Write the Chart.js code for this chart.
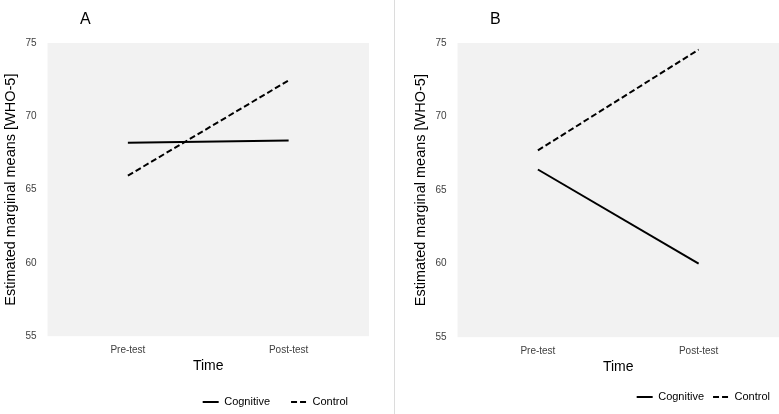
<!DOCTYPE html>
<html>
<head>
<meta charset="utf-8">
<script src="https://cdn.jsdelivr.net/npm/chart.js@4.4.1/dist/chart.umd.min.js"></script>
<style>
  html, body { margin: 0; padding: 0; background: #fff; }
  #wrap { position: relative; width: 779px; height: 414px; overflow: hidden; }
  #cA { position: absolute; left: 0; top: 0; }
  #cB { position: absolute; left: 396px; top: 0; }
  #sep { position: absolute; left: 394px; top: 0; width: 1px; height: 414px; background: #dcdcdc; }
  .panel { position: absolute; top: 10px; font: 16px "Liberation Sans", Arial, sans-serif; color: #000; }
</style>
</head>
<body>
<div id="wrap">
  <canvas id="cA" width="393" height="420"></canvas>
  <div id="sep"></div>
  <canvas id="cB" width="383" height="414"></canvas>
  <div class="panel" style="left:80px">A</div>
  <div class="panel" style="left:490px">B</div>
</div>
<script>
const categories = ['Pre-test', 'Post-test'];
const seriesNames = ['Cognitive', 'Control'];
const cognitiveA = [68.2, 68.35];
const controlA = [65.95, 72.45];
const cognitiveB = [66.4, 60.0];
const controlB = [67.7, 74.55];
const yTicks = [55, 60, 65, 70, 75];

const bgPlugin = {
  id: 'plotBg',
  beforeDraw(chart) {
    const a = chart.chartArea, ctx = chart.ctx;
    ctx.save();
    ctx.fillStyle = '#f2f2f2';
    ctx.fillRect(a.left, a.top, a.right - a.left, a.bottom - a.top);
    ctx.restore();
  }
};

const FONT = '"Liberation Sans", Arial, sans-serif';

function makeChart(id, cog, ctl, cfg) {
  return new Chart(document.getElementById(id), {
    type: 'line',
    data: {
      labels: categories,
      datasets: [
        { label: seriesNames[0], data: cog, borderColor: '#000', backgroundColor: '#000',
          borderWidth: 2, pointRadius: 0, tension: 0 },
        { label: seriesNames[1], data: ctl, borderColor: '#000', backgroundColor: '#000',
          borderWidth: 2, borderDash: [6, 3], pointRadius: 0, tension: 0 }
      ]
    },
    options: {
      responsive: false,
      animation: false,
      layout: { padding: cfg.pad },
      plugins: {
        tooltip: { enabled: false },
        legend: {
          position: 'bottom',
          align: 'end',
          fullSize: false,
          labels: {
            usePointStyle: true,
            pointStyle: 'line',
            pointStyleWidth: 16,
            boxHeight: 2,
            color: '#000',
            padding: cfg.legendPad,
            font: { family: FONT, size: 11 },
            generateLabels(chart) {
              const items = Chart.defaults.plugins.legend.labels.generateLabels(chart);
              items.forEach(it => {
                const ds = chart.data.datasets[it.datasetIndex];
                it.lineDash = ds.borderDash ? ds.borderDash.slice() : [];
                it.lineWidth = 2;
                it.strokeStyle = '#000';
                it.pointStyle = 'line';
              });
              return items;
            }
          }
        }
      },
      scales: {
        x: {
          type: 'category',
          offset: true,
          grid: { display: false, drawTicks: false },
          border: { display: false },
          ticks: { color: '#404040', padding: 8, font: { family: FONT, size: 10 } },
          title: { display: true, text: 'Time', color: '#000', padding: cfg.xTitlePad,
                   font: { family: FONT, size: 14 } }
        },
        y: {
          min: 55, max: 75,
          afterBuildTicks(scale) { scale.ticks = yTicks.map(v => ({ value: v })); },
          grid: { display: false, drawTicks: false },
          border: { display: false },
          ticks: { color: '#404040', padding: 11, font: { family: FONT, size: 10 } },
          title: { display: true, text: 'Estimated marginal means [WHO-5]', color: '#000', padding: { top: 0, bottom: -5 },
                   font: { family: FONT, size: 14.5 } }
        }
      }
    },
    plugins: [bgPlugin]
  });
}

const chA = makeChart('cA', cognitiveA, controlA, {
  pad: { top: 43, right: 24, bottom: 2.5, left: 2 }, legendPad: 21, xTitlePad: { top: -6.6, bottom: 1.1 }
});
const chB = makeChart('cB', cognitiveB, controlB, {
  pad: { top: 43, right: 0, bottom: 1.5, left: 16 }, legendPad: 9, xTitlePad: { top: -6.9, bottom: 7.4 }
});
</script>
</body>
</html>
